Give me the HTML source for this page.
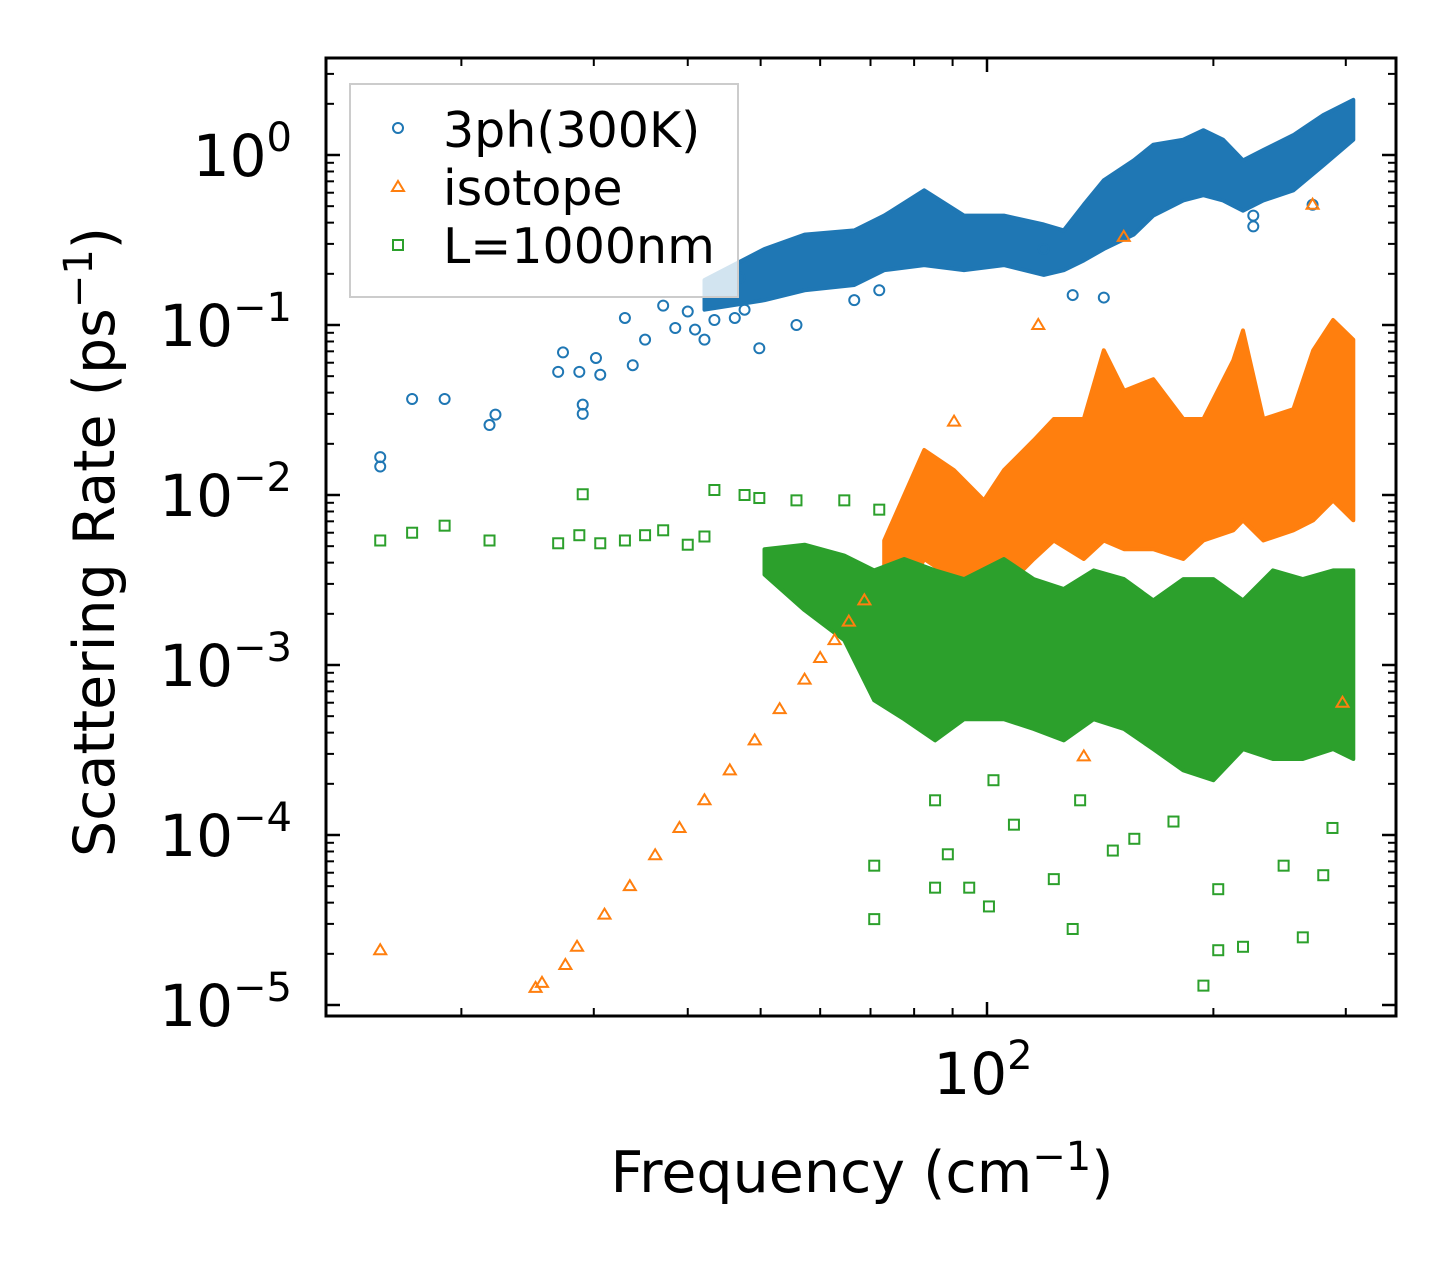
<!DOCTYPE html>
<html><head><meta charset="utf-8"><style>
html,body{margin:0;padding:0;background:#fff;}
svg{display:block;font-family:"DejaVu Sans","Liberation Sans",sans-serif;}
</style></head><body>
<svg id="chart" width="1455" height="1265" viewBox="0 0 1455 1265" xmlns="http://www.w3.org/2000/svg">
<rect x="0" y="0" width="1455" height="1265" fill="#fff"/>
<g id="clouds"></g>
<g id="points"></g>
<g id="axes"></g>
<text x="862" y="1192" font-size="57" text-anchor="middle">Frequency (cm<tspan font-size="40" dy="-22">−1</tspan><tspan dy="22">)</tspan></text>
<text transform="translate(114,542) rotate(-90)" font-size="57" text-anchor="middle">Scattering Rate (ps<tspan font-size="40" dy="-22">−1</tspan><tspan dy="22">)</tspan></text>
<g>
<rect x="350" y="84" width="388" height="213" fill="#fff" fill-opacity="0.8" stroke="#ccc" stroke-width="2"/>
<circle cx="398" cy="128" r="5" fill="none" stroke="#1f77b4" stroke-width="2"/>
<text x="443" y="147" font-size="49">3ph(300K)</text>
<polygon points="398,181 404,191 392,191" fill="none" stroke="#ff7f0e" stroke-width="2"/>
<text x="443" y="205" font-size="49">isotope</text>
<rect x="393" y="240" width="10" height="10" fill="none" stroke="#2ca02c" stroke-width="2"/>
<text x="443" y="263" font-size="49">L=1000nm</text>
</g>
</svg>
<script>
// ---- data ----
const blueFreq = [15.6,15.6,17.2,19.0,21.8,22.2,26.9,27.3,28.7,29.0,29.0,30.2,30.6,33.0,33.8,35.1,37.1,38.5,40,40.9,42.1,43.4,46.2,47.6,49.8,46.9,55.8,66.6,71.9,119,130,143,226,226,271];
const blueRate = [0.0167,0.0147,0.0367,0.0367,0.0258,0.0297,0.053,0.069,0.053,0.034,0.030,0.064,0.051,0.11,0.058,0.082,0.13,0.096,0.12,0.094,0.082,0.107,0.11,0.123,0.073,0.19,0.1,0.14,0.16,0.28,0.15,0.145,0.44,0.38,0.51];
const blueCloudFreq = [42.1,50.6,57.2,66.6,73.0,82.5,93.2,105.3,119,126.5,134.5,143,156.7,166.4,182.4,194,206,219,233,255.5,280,307];
const blueCloudHigh = [0.184,0.28,0.34,0.36,0.44,0.62,0.44,0.44,0.39,0.36,0.51,0.71,0.93,1.15,1.23,1.40,1.23,0.93,1.07,1.31,1.72,2.11];
const blueCloudLow  = [0.123,0.14,0.16,0.172,0.21,0.225,0.21,0.225,0.197,0.21,0.24,0.28,0.34,0.44,0.54,0.58,0.54,0.47,0.54,0.62,0.87,1.23];

const orangeFreq = [15.6,25.1,25.6,27.5,28.5,31.0,33.5,36.2,39,42.1,45.5,49.1,53,57.2,60,62.7,65.5,68.7,117,152,271,90.4,134.5,297];
const orangeRate = [2.1e-5,1.26e-5,1.35e-5,1.72e-5,2.2e-5,3.4e-5,5.0e-5,7.6e-5,1.1e-4,1.6e-4,2.4e-4,3.6e-4,5.5e-4,8.2e-4,1.1e-3,1.4e-3,1.8e-3,2.4e-3,0.1,0.33,0.51,0.027,2.9e-4,6e-4];
const orangeCloudFreq = [73.0,82.5,90.4,99.1,105.3,115.4,122.7,134.5,143,152.1,166.4,182.4,194,212.6,219,233,255.5,271.5,288.6,307];
const orangeCloudHigh = [5.4e-3,1.84e-2,1.4e-2,9.3e-3,1.4e-2,2.1e-2,2.8e-2,2.8e-2,7.1e-2,4.1e-2,4.8e-2,2.8e-2,2.8e-2,6.2e-2,9.3e-2,2.8e-2,3.2e-2,7.1e-2,0.107,8.2e-2];
const orangeCloudLow  = [1.4e-3,4.2e-3,3.2e-3,2.4e-3,2.8e-3,4.2e-3,5.4e-3,4.2e-3,5.4e-3,4.8e-3,4.8e-3,4.2e-3,5.4e-3,6.2e-3,7.1e-3,5.4e-3,6.2e-3,7.1e-3,9.3e-3,7.1e-3];

const greenFreq = [15.6,17.2,19.0,21.8,26.9,28.7,29.0,30.6,33.0,35.1,37.1,40,42.1,43.4,47.6,49.8,55.8,64.6,71.9,70.8,70.8,85.3,88.7,94.7,100.6,108.6,122.7,130,147,194,203,219,248,263,280,203,177,157,133,102,85.3,288];
const greenRate = [5.4e-3,6.0e-3,6.6e-3,5.4e-3,5.2e-3,5.8e-3,1.01e-2,5.2e-3,5.4e-3,5.8e-3,6.2e-3,5.1e-3,5.7e-3,1.07e-2,1.0e-2,9.6e-3,9.3e-3,9.3e-3,8.2e-3,6.6e-5,3.2e-5,4.9e-5,7.7e-5,4.9e-5,3.8e-5,1.15e-4,5.5e-5,2.8e-5,8.1e-5,1.3e-5,2.1e-5,2.2e-5,6.6e-5,2.5e-5,5.8e-5,4.8e-5,1.2e-4,9.5e-5,1.6e-4,2.1e-4,1.6e-4,1.1e-4];
const greenCloudFreq = [50.6,57.2,64.6,70.8,77.6,85.3,93.2,105.3,115.4,126.5,138.6,152.1,166.4,182.4,200,219,240,263,288.6,307];
const greenCloudHigh = [4.8e-3,5.1e-3,4.4e-3,3.6e-3,4.2e-3,3.6e-3,3.2e-3,4.2e-3,3.2e-3,2.8e-3,3.6e-3,3.2e-3,2.4e-3,3.2e-3,3.2e-3,2.4e-3,3.6e-3,3.2e-3,3.6e-3,3.6e-3];
const greenCloudLow  = [3.4e-3,2.1e-3,1.4e-3,6.2e-4,4.8e-4,3.6e-4,4.8e-4,4.8e-4,4.2e-4,3.6e-4,4.8e-4,4.2e-4,3.2e-4,2.4e-4,2.1e-4,3.2e-4,2.8e-4,2.8e-4,3.2e-4,2.8e-4];

const yDecades = [0,-1,-2,-3,-4,-5];
const xMinorTicks = [20,30,40,50,60,70,80,90,200,300];
const xMajorTicks = [100];

// ---- axes ----
const L=326, R=1396, T=58, B=1016;
const xs = f => 987 + 752*Math.log10(f/100);
const ys = r => 155 - 170*Math.log10(r);
const NS='http://www.w3.org/2000/svg';
function mk(tag, attrs, parent){const e=document.createElementNS(NS,tag);for(const k in attrs)e.setAttribute(k,attrs[k]);parent.appendChild(e);return e;}
const clouds=document.getElementById('clouds'), pts=document.getElementById('points'), axes=document.getElementById('axes');

function cloud(fr, hi, lo, color, name){
  let d='M'+fr.map((f,i)=>xs(f).toFixed(1)+','+ys(hi[i]).toFixed(1)).join('L');
  for(let i=fr.length-1;i>=0;i--) d+='L'+xs(fr[i]).toFixed(1)+','+ys(lo[i]).toFixed(1);
  const p=mk('path',{d:d+'Z',fill:color,stroke:color,'stroke-width':'4','stroke-linejoin':'round'},clouds);
  
  
}
cloud(blueCloudFreq,blueCloudHigh,blueCloudLow,'#1f77b4','cloud-3ph');
cloud(orangeCloudFreq,orangeCloudHigh,orangeCloudLow,'#ff7f0e','cloud-isotope');
cloud(greenCloudFreq,greenCloudHigh,greenCloudLow,'#2ca02c','cloud-boundary');

blueFreq.forEach((f,i)=>{
  const c=mk('circle',{cx:xs(f),cy:ys(blueRate[i]),r:5,fill:'none',stroke:'#1f77b4','stroke-width':2},pts);
  
  
});
orangeFreq.forEach((f,i)=>{
  const x=xs(f), y=ys(orangeRate[i]);
  const p=mk('polygon',{points:`${x},${y-6} ${x+6},${y+4} ${x-6},${y+4}`,fill:'none',stroke:'#ff7f0e','stroke-width':2},pts);
  
  
});
greenFreq.forEach((f,i)=>{
  const x=xs(f), y=ys(greenRate[i]);
  const s=mk('rect',{x:x-5,y:y-5,width:10,height:10,fill:'none',stroke:'#2ca02c','stroke-width':2},pts);
  
  
});

const frame=mk('rect',{x:L,y:T,width:R-L,height:B-T,fill:'none',stroke:'#000','stroke-width':3},axes);


function line(x1,y1,x2,y2,w){mk('line',{x1,y1,x2,y2,stroke:'#000','stroke-width':w},axes);}
yDecades.forEach(e=>{
  const y=ys(Math.pow(10,e));
  line(L,y,L+14,y,2.5); line(R,y,R-14,y,2.5);
  const t=mk('text',{x:292,y:y+21,'font-size':58,'text-anchor':'end'},axes);
  
  
  t.textContent='10';
  const s=mk('tspan',{'font-size':40,dy:-25},t); s.textContent=(e<0?'−':'')+Math.abs(e);
  if(e>-5) for(let k=2;k<=9;k++){const yy=ys(Math.pow(10,e-1)*k); if(yy<B){line(L,yy,L+8,yy,2);line(R,yy,R-8,yy,2);} }
});
for(let k=2;k<=9;k++){const yy=ys(k); if(yy>T){line(L,yy,L+8,yy,2);line(R,yy,R-8,yy,2);}}
xMinorTicks.forEach(f=>{const x=xs(f); line(x,B,x,B-8,2); line(x,T,x,T+8,2);});
xMajorTicks.forEach(f=>{
  const x=xs(f); line(x,B,x,B-14,2.5); line(x,T,x,T+14,2.5);
  const t=mk('text',{x:x-4,y:1094,'font-size':58,'text-anchor':'middle'},axes);
  
  
  t.textContent='10';
  const s=mk('tspan',{'font-size':40,dy:-25},t); s.textContent='2';
});
</script>
</body></html>
